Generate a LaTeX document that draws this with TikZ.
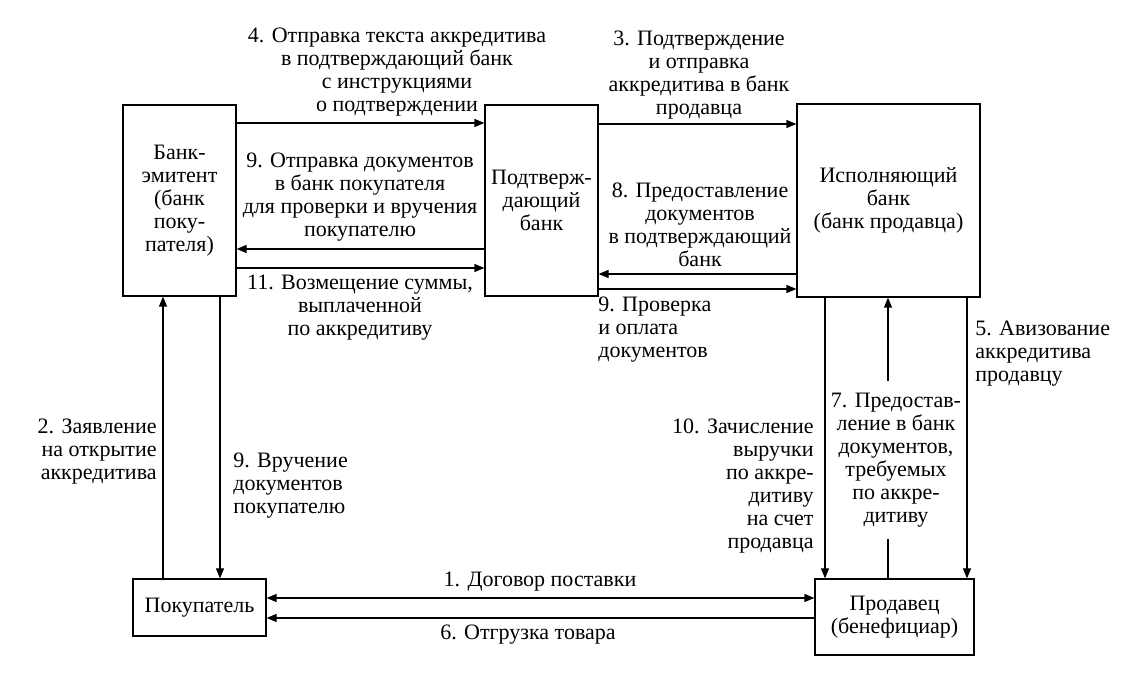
\documentclass[tikz,border=0pt]{standalone}
\usepackage{fontspec}
\setmainfont{Liberation Serif}
\usetikzlibrary{arrows.meta}
\begin{document}
\begin{tikzpicture}[x=0.5pt,y=-0.5pt,
  every node/.style={font=\fontsize{11}{11.5}\selectfont, inner sep=0pt},
  box/.style={draw, line width=0.6pt, align=center},
  lbl/.style={align=center},
  lbll/.style={align=left},
  lblr/.style={align=right},
  conn/.style={line width=0.6pt},
  arr/.style={conn, -{Triangle[length=5pt,width=4pt]}},
  darr/.style={conn, {Triangle[length=5pt,width=4pt]}-{Triangle[length=5pt,width=4pt]}}
]
\useasboundingbox (0,0) rectangle (1132,673);
% boxes
\node[box, minimum width=56.5pt, minimum height=95.5pt] (emit) at (179.5,200.5) {Банк-\\эмитент\\(банк\\поку-\\пателя)};
\node[box, minimum width=56.5pt, minimum height=95.5pt] (conf) at (541.5,200.5) {Подтверж-\\дающий\\банк};
\node[box, minimum width=91.5pt, minimum height=96.5pt] (exec) at (888.5,200.5) {Исполняющий\\банк\\(банк продавца)};
\node[box, minimum width=66.5pt, minimum height=28.5pt] (buyer) at (199.5,607.5) {Покупатель};
\node[box, minimum width=79.5pt, minimum height=38pt] (seller) at (894.5,617) {Продавец\\(бенефициар)};
% horizontal connectors
\draw[arr] (emit.east |- 0,123) -- (conf.west |- 0,123);
\draw[arr] (conf.west |- 0,249) -- (emit.east |- 0,249);
\draw[arr] (emit.east |- 0,268) -- (conf.west |- 0,268);
\draw[arr] (conf.east |- 0,124) -- (exec.west |- 0,124);
\draw[arr] (exec.west |- 0,274) -- (conf.east |- 0,274);
\draw[arr] (conf.east |- 0,289) -- (exec.west |- 0,289);
\draw[darr] (buyer.east |- 0,598) -- (seller.west |- 0,598);
\draw[arr] (seller.west |- 0,618) -- (buyer.east |- 0,618);
% vertical connectors
\draw[arr] (buyer.north -| 163,0) -- (emit.south -| 163,0);
\draw[arr] (emit.south -| 220,0) -- (buyer.north -| 220,0);
\draw[arr] (exec.south -| 825,0) -- (seller.north -| 825,0);
\draw[arr] (exec.south -| 967,0) -- (seller.north -| 967,0);
% labels
\node[lbl] (l4) at (397,72) {4. Отправка текста аккредитива\\в подтверждающий банк\\с инструкциями\\о подтверждении};
\node[lbl] (l3) at (699,75) {3. Подтверждение\\и отправка\\аккредитива в банк\\продавца};
\node[lbl] (l9a) at (360,197) {9. Отправка документов\\в банк покупателя\\для проверки и вручения\\покупателю};
\node[lbl] (l11) at (360,308) {11. Возмещение суммы,\\выплаченной\\по аккредитиву};
\node[lbl] (l8) at (700,225) {8. Предоставление\\документов\\в подтверждающий\\банк};
\node[lbll, anchor=west] (l9b) at (598,330) {9. Проверка\\и оплата\\документов};
\node[lbll, anchor=west] (l5) at (975,354) {5. Авизование\\аккредитива\\продавцу};
\node[lbl, inner ysep=6pt] (l7) at (896,460) {7. Предостав-\\ление в банк\\документов,\\требуемых\\по аккре-\\дитиву};
\node[lblr, anchor=east] (l10) at (814,486) {10. Зачисление\\выручки\\по аккре-\\дитиву\\на счет\\продавца};
\node[lblr, anchor=east] (l2) at (157,452) {2. Заявление\\на открытие\\аккредитива};
\node[lbll, anchor=west] (l9c) at (233,486) {9. Вручение\\документов\\покупателю};
\node[lbl] (l1) at (540,582) {1. Договор поставки};
\node[lbl] (l6) at (528,635) {6. Отгрузка товара};
% connector 7 broken by its label
\coordinate (c7) at (888,0);
\draw[conn] (seller.north -| c7) -- (l7.south -| c7);
\draw[arr] (l7.north -| c7) -- (exec.south -| c7);
\end{tikzpicture}
\end{document}
